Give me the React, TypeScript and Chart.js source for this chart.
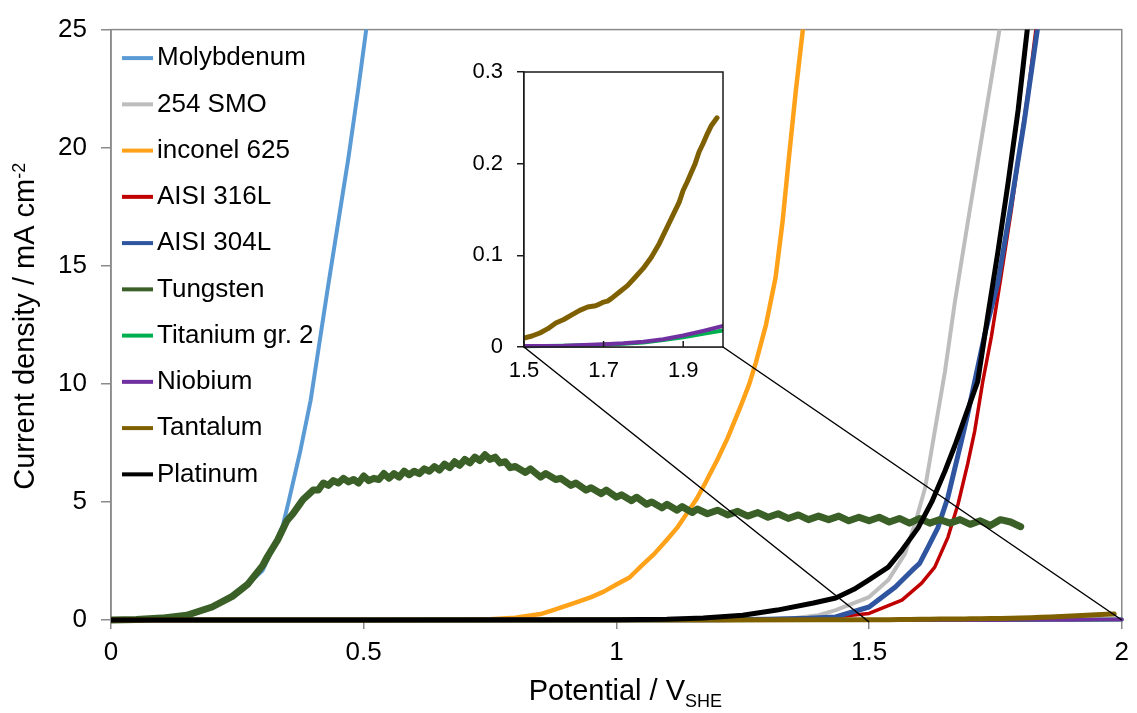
import React, { useEffect, useRef } from 'react';
import { Chart, registerables } from 'chart.js';

Chart.register(...registerables);

const FONT = '"Liberation Sans", Arial, Helvetica, sans-serif';

// ---- Tick values ----
const xTickValues = [0, 0.5, 1, 1.5, 2];
const yTickValues = [0, 5, 10, 15, 20, 25];
const insetXTickValues = [1.5, 1.7, 1.9];
const insetYTickValues = [0, 0.1, 0.2, 0.3];

// ---- Series labels and colours ----
const seriesLabels = [
  'Molybdenum', '254 SMO', 'inconel 625', 'AISI 316L', 'AISI 304L',
  'Tungsten', 'Titanium gr. 2', 'Niobium', 'Tantalum', 'Platinum',
];
const seriesColors = [
  '#5B9BD5', '#BDBDBD', '#FFA21A', '#C00000', '#2F55A0',
  '#3A5F27', '#00B050', '#7030A0', '#7F6000', '#000000',
];
const seriesWidths = [4, 4, 4.5, 3.5, 5, 7, 4, 4, 5, 5];

// ---- Data: potential (V_SHE) and current density (mA cm-2) ----
const moPotential = [0, 0.05, 0.1, 0.15, 0.2, 0.25, 0.267, 0.3, 0.32, 0.34, 0.352, 0.375, 0.395, 0.415, 0.43, 0.45, 0.47, 0.49, 0.505, 0.51];
const moCurrent = [0, 0.02, 0.07, 0.2, 0.52, 1.1, 1.45, 2.1, 3.0, 4.0, 5.06, 7.2, 9.3, 12.1, 14.2, 16.9, 19.6, 22.6, 25, 25.8];

const smoPotential = [0, 0.5, 1.0, 1.1, 1.2, 1.3, 1.35, 1.4, 1.434, 1.5, 1.538, 1.571, 1.591, 1.611, 1.63, 1.65, 1.67, 1.695, 1.715, 1.735, 1.758, 1.762];
const smoCurrent = [0, 0, 0.002, 0.005, 0.01, 0.03, 0.07, 0.2, 0.42, 0.97, 1.69, 2.8, 4.1, 5.6, 8.0, 10.5, 13.5, 16.8, 19.4, 22.0, 25, 25.8];

const inconelPotential = [0, 0.5, 0.7, 0.75, 0.8, 0.85, 0.875, 0.9, 0.925, 0.95, 0.975, 1.0, 1.026, 1.05, 1.075, 1.1, 1.12, 1.139, 1.158, 1.176, 1.2, 1.22, 1.245, 1.263, 1.276, 1.296, 1.315, 1.329, 1.341, 1.355, 1.369, 1.373];
const inconelCurrent = [0, 0, 0.01, 0.03, 0.1, 0.25, 0.42, 0.6, 0.78, 0.97, 1.2, 1.5, 1.8, 2.3, 2.8, 3.4, 3.9, 4.5, 5.1, 5.8, 6.8, 7.7, 9.0, 10.0, 10.9, 12.5, 14.5, 16.9, 19.5, 22.4, 25, 25.8];

const aisi316Potential = [0, 1.0, 1.2, 1.3, 1.4, 1.5, 1.565, 1.604, 1.63, 1.656, 1.676, 1.695, 1.709, 1.725, 1.742, 1.76, 1.781, 1.8, 1.815, 1.83, 1.834];
const aisi316Current = [0, 0, 0.005, 0.02, 0.06, 0.28, 0.84, 1.56, 2.24, 3.5, 4.9, 6.6, 8.0, 10.1, 12.0, 14.4, 17.3, 20.2, 22.4, 25, 25.8];

const aisi304Potential = [0, 1.0, 1.2, 1.3, 1.38, 1.434, 1.5, 1.552, 1.585, 1.6, 1.617, 1.636, 1.656, 1.67, 1.683, 1.695, 1.709, 1.73, 1.755, 1.781, 1.807, 1.833, 1.837];
const aisi304Current = [0, 0, 0.01, 0.03, 0.07, 0.13, 0.55, 1.4, 2.1, 2.4, 3.1, 3.9, 5.2, 6.45, 7.6, 8.7, 10.1, 12.2, 14.3, 17.6, 21.1, 25, 25.8];

const tungstenPotential = [0, 0.05, 0.1, 0.15, 0.2, 0.24, 0.27, 0.3, 0.31, 0.33, 0.348, 0.36, 0.37, 0.38, 0.39, 0.4, 0.41, 0.42, 0.43, 0.44, 0.45, 0.46, 0.47, 0.48, 0.49, 0.5, 0.51, 0.52, 0.53, 0.54, 0.55, 0.56, 0.57, 0.58, 0.59, 0.6, 0.61, 0.62, 0.63, 0.64, 0.65, 0.66, 0.67, 0.68, 0.69, 0.7, 0.71, 0.72, 0.73, 0.74, 0.75, 0.76, 0.77, 0.78, 0.79, 0.8, 0.82, 0.83, 0.85, 0.86, 0.88, 0.89, 0.91, 0.92, 0.94, 0.95, 0.97, 0.98, 1.0, 1.01, 1.03, 1.04, 1.06, 1.07, 1.09, 1.1, 1.12, 1.13, 1.15, 1.16, 1.18, 1.2, 1.22, 1.24, 1.26, 1.28, 1.3, 1.32, 1.34, 1.36, 1.38, 1.4, 1.42, 1.44, 1.46, 1.48, 1.5, 1.52, 1.54, 1.56, 1.58, 1.6, 1.62, 1.64, 1.66, 1.68, 1.7, 1.72, 1.74, 1.76, 1.78, 1.8];
const tungstenCurrent = [0, 0.02, 0.08, 0.2, 0.55, 1.0, 1.5, 2.3, 2.7, 3.4, 4.2, 4.5, 4.8, 5.1, 5.3, 5.5, 5.5, 5.8, 5.7, 5.9, 5.8, 6.0, 5.85, 5.95, 5.8, 6.1, 5.9, 6.0, 5.95, 6.2, 6.0, 6.2, 6.05, 6.3, 6.15, 6.3, 6.2, 6.4, 6.3, 6.5, 6.35, 6.6, 6.45, 6.7, 6.55, 6.8, 6.65, 6.9, 6.75, 7.0, 6.8, 6.9, 6.65, 6.7, 6.45, 6.5, 6.25, 6.4, 6.05, 6.2, 5.95, 6.0, 5.7, 5.8, 5.5, 5.6, 5.35, 5.5, 5.2, 5.3, 5.05, 5.2, 4.9, 5.0, 4.75, 4.9, 4.65, 4.8, 4.55, 4.7, 4.5, 4.65, 4.45, 4.6, 4.4, 4.55, 4.35, 4.5, 4.3, 4.45, 4.25, 4.4, 4.25, 4.4, 4.2, 4.35, 4.2, 4.35, 4.15, 4.3, 4.1, 4.3, 4.1, 4.25, 4.1, 4.25, 4.05, 4.2, 4.0, 4.25, 4.15, 3.95];

const titaniumPotential = [0, 1.0, 1.5, 1.6, 1.7, 1.75, 1.8, 1.85, 1.9, 1.95, 2.0];
const titaniumCurrent = [0, 0.0002, 0.0008, 0.0014, 0.0025, 0.0035, 0.005, 0.0075, 0.0105, 0.0145, 0.018];

const niobiumPotential = [0, 1.0, 1.5, 1.6, 1.7, 1.75, 1.8, 1.85, 1.9, 1.95, 2.0];
const niobiumCurrent = [0, 0.0003, 0.001, 0.0015, 0.003, 0.004, 0.0058, 0.0085, 0.0125, 0.0175, 0.023];

const tantalumPotential = [0, 0.5, 1.0, 1.2, 1.4, 1.5, 1.52, 1.54, 1.56, 1.58, 1.6, 1.62, 1.64, 1.66, 1.68, 1.69, 1.7, 1.71, 1.72, 1.74, 1.76, 1.78, 1.8, 1.82, 1.84, 1.86, 1.87, 1.88, 1.89, 1.9, 1.91, 1.92, 1.93, 1.94, 1.95, 1.96, 1.97, 1.985];
const tantalumCurrent = [0, 0.0005, 0.002, 0.004, 0.007, 0.0098, 0.012, 0.0153, 0.02, 0.0262, 0.03, 0.035, 0.04, 0.0436, 0.045, 0.047, 0.049, 0.05, 0.053, 0.06, 0.067, 0.0764, 0.086, 0.098, 0.113, 0.131, 0.14, 0.149, 0.158, 0.171, 0.18, 0.19, 0.2, 0.213, 0.222, 0.232, 0.241, 0.25];

const platinumPotential = [0, 0.5, 1.0, 1.1, 1.172, 1.25, 1.318, 1.39, 1.434, 1.47, 1.499, 1.538, 1.565, 1.597, 1.624, 1.65, 1.67, 1.69, 1.715, 1.735, 1.755, 1.775, 1.795, 1.813, 1.816];
const platinumCurrent = [0, 0, 0.01, 0.03, 0.08, 0.2, 0.42, 0.72, 0.93, 1.3, 1.69, 2.24, 2.95, 3.9, 5.0, 6.3, 7.4, 8.6, 10.1, 12.9, 15.6, 18.5, 21.6, 25, 25.8];

const potentials = [moPotential, smoPotential, inconelPotential, aisi316Potential, aisi304Potential, tungstenPotential, titaniumPotential, niobiumPotential, tantalumPotential, platinumPotential];
const currents = [moCurrent, smoCurrent, inconelCurrent, aisi316Current, aisi304Current, tungstenCurrent, titaniumCurrent, niobiumCurrent, tantalumCurrent, platinumCurrent];

// series shown in the inset (indices into the lists above)
const insetSeries = [6, 7, 8];
const insetXRange = [1.5, 2.0];
const insetYRange = [0, 0.3];

const AXIS_GRAY = '#8a8a8a';

function makeDataset(idx: number, clip: any) {
  const v = potentials[idx];
  const c = currents[idx];
  return {
    label: seriesLabels[idx],
    data: v.map((x, k) => ({ x, y: c[k] })),
    borderColor: seriesColors[idx],
    backgroundColor: seriesColors[idx],
    borderWidth: seriesWidths[idx],
    showLine: true,
    pointRadius: 0,
    pointHoverRadius: 0,
    fill: false,
    tension: 0,
    borderJoinStyle: 'round' as const,
    borderCapStyle: 'round' as const,
    order: seriesLabels.length - idx,
    clip,
  };
}

export default function App() {
  const mainRef = useRef<HTMLCanvasElement>(null);
  const insetRef = useRef<HTMLCanvasElement>(null);

  useEffect(() => {
    const framePlugin = {
      id: 'frame',
      beforeDatasetsDraw(chart: any) {
        const { ctx, chartArea: ca } = chart;
        ctx.save();
        ctx.strokeStyle = AXIS_GRAY;
        ctx.lineWidth = 1.5;
        ctx.strokeRect(ca.left, ca.top, ca.right - ca.left, ca.bottom - ca.top);
        ctx.restore();
      },
    };

    const legendPlugin = {
      id: 'insideLegend',
      afterDraw(chart: any) {
        const { ctx, chartArea: ca } = chart;
        ctx.save();
        ctx.font = `26px ${FONT}`;
        ctx.textBaseline = 'middle';
        ctx.textAlign = 'left';
        seriesLabels.forEach((label, i) => {
          const y = ca.top + 28.5 + i * 46.25;
          ctx.strokeStyle = seriesColors[i];
          ctx.lineWidth = 4;
          ctx.beginPath();
          ctx.moveTo(ca.left + 11, y);
          ctx.lineTo(ca.left + 42, y);
          ctx.stroke();
          ctx.fillStyle = '#000';
          ctx.fillText(label, ca.left + 46, y);
        });
        ctx.restore();
      },
    };

    const titlesPlugin = {
      id: 'axisTitles',
      afterDraw(chart: any) {
        const { ctx, chartArea: ca } = chart;
        ctx.save();
        ctx.fillStyle = '#000';
        ctx.textAlign = 'left';
        ctx.textBaseline = 'alphabetic';
        // x title with subscript
        const xMain = 'Potential / V';
        const xSub = 'SHE';
        ctx.font = `29px ${FONT}`;
        const w1 = ctx.measureText(xMain).width;
        ctx.font = `18px ${FONT}`;
        const w2 = ctx.measureText(xSub).width;
        const sx = (ca.left + ca.right) / 2 + 9 - (w1 + w2) / 2;
        const by = ca.bottom + 80;
        ctx.font = `29px ${FONT}`;
        ctx.fillText(xMain, sx, by);
        ctx.font = `18px ${FONT}`;
        ctx.fillText(xSub, sx + w1, by + 7);
        // y title with superscript
        const yMain = 'Current density / mA cm';
        const ySup = '-2';
        ctx.font = `29px ${FONT}`;
        const h1 = ctx.measureText(yMain).width;
        ctx.font = `18px ${FONT}`;
        const h2 = ctx.measureText(ySup).width;
        const cy = (ca.top + ca.bottom) / 2 + 1.5;
        ctx.translate(33.5, cy);
        ctx.rotate(-Math.PI / 2);
        const start = -(h1 + h2) / 2;
        ctx.font = `29px ${FONT}`;
        ctx.fillText(yMain, start, 0);
        ctx.font = `18px ${FONT}`;
        ctx.fillText(ySup, start + h1, -9);
        ctx.restore();
      },
    };

    const main = new Chart(mainRef.current as HTMLCanvasElement, {
      type: 'scatter',
      data: {
        datasets: seriesLabels.map((_, i) => makeDataset(i, { left: 0, top: 0, right: 4, bottom: 6 })),
      },
      options: {
        animation: false,
        responsive: false,
        devicePixelRatio: 1,
        events: [],
        layout: { padding: { left: 0, top: 27, right: 9, bottom: 0 } },
        plugins: { legend: { display: false }, tooltip: { enabled: false }, title: { display: false } },
        scales: {
          x: {
            type: 'linear',
            min: 0,
            max: 2,
            afterBuildTicks: (s: any) => { s.ticks = xTickValues.map((v) => ({ value: v })); },
            afterFit: (s: any) => { s.height = 93; },
            ticks: { font: { family: FONT, size: 26 }, color: '#000', padding: 8, maxRotation: 0, autoSkip: false, callback: (v: any) => String(v) },
            grid: { display: true, drawOnChartArea: false, drawTicks: true, tickLength: 9, color: AXIS_GRAY, lineWidth: 1.5 },
            border: { display: true, color: AXIS_GRAY, width: 1.5 },
          },
          y: {
            type: 'linear',
            min: 0,
            max: 25,
            afterBuildTicks: (s: any) => { s.ticks = yTickValues.map((v) => ({ value: v })); },
            afterFit: (s: any) => { s.width = 111; },
            ticks: { font: { family: FONT, size: 26 }, color: '#000', padding: 14, autoSkip: false, callback: (v: any) => String(v) },
            grid: { display: true, drawOnChartArea: false, drawTicks: true, tickLength: 10, color: AXIS_GRAY, lineWidth: 1.5 },
            border: { display: true, color: AXIS_GRAY, width: 1.5 },
          },
        },
      },
      plugins: [framePlugin, legendPlugin, titlesPlugin],
    } as any);

    const insetPlugin = {
      id: 'insetDecor',
      beforeDatasetsDraw(chart: any) {
        const { ctx, chartArea: ca } = chart;
        ctx.save();
        ctx.fillStyle = '#fff';
        ctx.fillRect(ca.left, ca.top, ca.right - ca.left, ca.bottom - ca.top);
        ctx.restore();
      },
      afterDraw(chart: any) {
        const { ctx, chartArea: ca } = chart;
        ctx.save();
        ctx.strokeStyle = '#1a1a1a';
        ctx.lineWidth = 1.5;
        ctx.strokeRect(ca.left, ca.top, ca.right - ca.left, ca.bottom - ca.top);
        // inward x ticks
        const xs = chart.scales.x;
        ctx.beginPath();
        insetXTickValues.forEach((v) => {
          const px = xs.getPixelForValue(v);
          ctx.moveTo(px, ca.bottom);
          ctx.lineTo(px, ca.bottom - 6);
        });
        ctx.stroke();
        // connector lines to the main axis
        const mx = main.scales.x;
        const my = main.scales.y;
        ctx.strokeStyle = '#000';
        ctx.lineWidth = 1.5;
        ctx.beginPath();
        ctx.moveTo(ca.left, ca.bottom);
        ctx.lineTo(mx.getPixelForValue(insetXRange[0]), my.getPixelForValue(0) + 2);
        ctx.moveTo(ca.right, ca.bottom);
        ctx.lineTo(mx.getPixelForValue(insetXRange[1]), my.getPixelForValue(0));
        ctx.stroke();
        ctx.restore();
      },
    };

    const inset = new Chart(insetRef.current as HTMLCanvasElement, {
      type: 'scatter',
      data: {
        datasets: insetSeries.map((i) => makeDataset(i, { left: 0, top: 0, right: 0, bottom: 4 })),
      },
      options: {
        animation: false,
        responsive: false,
        devicePixelRatio: 1,
        events: [],
        layout: { padding: { left: 444, top: 72, right: 414, bottom: 326 } },
        plugins: { legend: { display: false }, tooltip: { enabled: false }, title: { display: false } },
        scales: {
          x: {
            type: 'linear',
            min: insetXRange[0],
            max: insetXRange[1],
            afterBuildTicks: (s: any) => { s.ticks = insetXTickValues.map((v) => ({ value: v })); },
            afterFit: (s: any) => { s.height = 40; },
            ticks: { font: { family: FONT, size: 22 }, color: '#000', padding: 11, maxRotation: 0, autoSkip: false, callback: (v: any) => String(v) },
            grid: { display: true, drawOnChartArea: false, drawTicks: false, color: '#1a1a1a', lineWidth: 1.5 },
            border: { display: true, color: '#1a1a1a', width: 1.5 },
          },
          y: {
            type: 'linear',
            min: insetYRange[0],
            max: insetYRange[1],
            afterBuildTicks: (s: any) => { s.ticks = insetYTickValues.map((v) => ({ value: v })); },
            afterFit: (s: any) => { s.width = 80; },
            ticks: { font: { family: FONT, size: 22 }, color: '#000', padding: 14, autoSkip: false, callback: (v: any) => String(v) },
            grid: { display: true, drawOnChartArea: false, drawTicks: true, tickLength: 7, color: '#1a1a1a', lineWidth: 1.5 },
            border: { display: true, color: '#1a1a1a', width: 1.5 },
          },
        },
      },
      plugins: [insetPlugin],
    } as any);

    return () => {
      inset.destroy();
      main.destroy();
    };
  }, []);

  return (
    <div style={{ position: 'fixed', left: 0, top: 0, width: 1137, height: 713, background: '#fff' }}>
      <canvas ref={mainRef} width={1137} height={713} style={{ position: 'absolute', left: 0, top: 0, width: 1137, height: 713 }} />
      <canvas ref={insetRef} width={1137} height={713} style={{ position: 'absolute', left: 0, top: 0, width: 1137, height: 713 }} />
    </div>
  );
}
